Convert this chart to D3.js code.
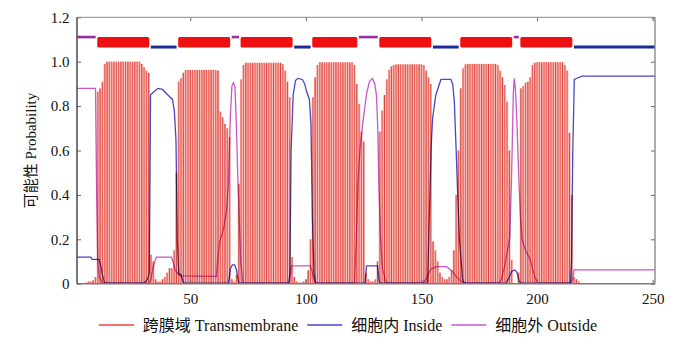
<!DOCTYPE html>
<html><head><meta charset="utf-8">
<script src="https://cdn.jsdelivr.net/npm/d3@7"></script>
<style>
body{margin:0;background:#fff;}
svg{display:block;}
text{font-family:"Liberation Serif","Times New Roman","Noto Sans CJK SC",serif;fill:#111;}
</style></head><body>
<svg id="chart" width="696" height="348"></svg>
<script>
// Per-residue transmembrane probability, residues 1..251
const tmProb = [
  0,0,0,0,0.005,0.01,0.01,0.015,0.03,0.865,
  0.88,0.91,0.99,1,1,1,1,1,1,1,
  1,1,1,1,1,1,1,1,0.99,0.975,
  0.96,0.95,0.13,0.10,0.02,0.01,0.01,0.02,0.03,0.05,
  0.07,0.07,0.15,0.5,0.91,0.925,0.95,0.963,0.963,0.963,
  0.963,0.963,0.963,0.963,0.963,0.963,0.963,0.963,0.963,0.963,
  0.963,0.96,0.775,0.75,0.72,0.70,0.66,0.02,0.01,0.04,
  0.45,0.92,0.985,0.995,0.995,0.995,0.995,0.995,0.995,0.995,
  0.995,0.995,0.995,0.995,0.995,0.995,0.995,0.995,0.995,0.99,
  0.96,0.91,0.84,0.12,0.03,0.01,0.005,0.005,0.01,0.02,
  0.06,0.2,0.84,0.93,0.985,0.997,0.997,0.997,0.997,0.997,
  0.997,0.997,0.997,0.997,0.997,0.997,0.997,0.997,0.997,0.997,
  0.985,0.9,0.81,0.685,0.64,0.05,0.02,0.01,0.01,0.02,
  0.1,0.685,0.78,0.85,0.92,0.963,0.978,0.985,0.988,0.988,
  0.988,0.988,0.988,0.988,0.988,0.988,0.988,0.988,0.988,0.988,
  0.985,0.96,0.93,0.90,0.19,0.15,0.1,0.05,0.03,0.02,
  0.02,0.03,0.06,0.15,0.4,0.6,0.88,0.97,0.988,0.99,
  0.99,0.99,0.99,0.99,0.99,0.99,0.99,0.99,0.99,0.99,
  0.99,0.99,0.985,0.96,0.93,0.895,0.82,0.6,0.107,0,
  0,0.05,0.88,0.89,0.905,0.91,0.93,0.985,0.995,0.998,
  0.998,0.998,0.998,0.998,0.998,0.998,0.998,0.998,0.998,0.998,
  0.998,0.985,0.96,0.68,0.4,0.03,0.02,0.01,0,0,
  0,0,0,0,0,0,0,0,0,0,
  0,0,0,0,0,0,0,0,0,0,
  0,0,0,0,0,0,0,0,0,0,
  0
];

// Inside / outside probability curves: [residue, probability]
const insidePts = [
  [1,0.12],[7,0.12],[7.5,0.11],[10.5,0.11],[11.3,0.08],[12,0.04],[12.9,0.004],
  [30,0.002],[31.5,0.02],[32.3,0.05],[32.8,0.85],[33.8,0.86],[36,0.88],[38,0.875],
  [40.3,0.85],[42.3,0.83],[43.1,0.78],[43.8,0.65],[44.4,0.2],[45,0.045],[46,0.04],
  [46.8,0.01],[47.5,0.002],[66.5,0.002],[67.4,0.07],[68.2,0.085],[69.2,0.085],
  [70,0.06],[70.8,0.008],[71.5,0.002],[92.6,0.002],[93.1,0.05],[93.6,0.6],
  [94.5,0.85],[95.5,0.915],[96.5,0.925],[98.5,0.92],[99.5,0.9],[100.2,0.87],
  [101.5,0.83],[102.2,0.72],[102.8,0.3],[103.5,0.05],[104.2,0.002],[125.6,0.002],
  [126.2,0.08],[131,0.08],[131.7,0.01],[132.3,0.002],[152.6,0.002],[153.4,0.3],
  [154.2,0.62],[154.8,0.745],[156.2,0.85],[158.4,0.92],[162.7,0.92],[163.5,0.9],
  [164.2,0.82],[165,0.6],[165.6,0.42],[166.4,0.2],[167.8,0.02],[168.5,0.002],
  [186.5,0.002],[188,0.03],[189,0.055],[190.3,0.062],[191.3,0.05],[192.3,0.01],
  [193,0.002],[214.4,0.002],[214.9,0.1],[215.4,0.58],[216.1,0.92],[218.2,0.93],
  [219.5,0.935],[251,0.935]
];
const outsidePts = [
  [1,0.88],[9,0.88],[9.5,0.4],[10,0.1],[10.6,0.03],[12,0.005],[13,0.002],
  [32,0.002],[33,0.02],[34,0.08],[35.3,0.12],[41.8,0.12],[42.5,0.1],[43.5,0.06],
  [44.6,0.045],[45.5,0.035],[61.3,0.033],[62,0.12],[62.7,0.19],[64.1,0.235],
  [65.6,0.32],[66.5,0.45],[67.3,0.75],[68,0.89],[68.6,0.905],[69.3,0.89],
  [69.9,0.73],[70.5,0.5],[71,0.355],[71.8,0.1],[72.8,0.002],[92.8,0.002],
  [93.8,0.08],[102,0.08],[102.8,0.05],[103.8,0.01],[104.5,0.002],[121,0.002],
  [121.8,0.2],[122.5,0.45],[123.5,0.62],[124.8,0.74],[126.3,0.86],[127.5,0.91],
  [128.8,0.925],[129.8,0.9],[130.5,0.85],[131.1,0.7],[131.6,0.43],[132.3,0.2],
  [133.1,0.07],[134.5,0.01],[135.5,0.002],[150.5,0.002],[152,0.02],[154,0.065],
  [156.5,0.077],[160.8,0.077],[163,0.06],[165.2,0.03],[167,0.012],[169,0.002],
  [183.5,0.002],[184.5,0.02],[186,0.08],[188.2,0.21],[189,0.5],[189.7,0.85],
  [190.1,0.925],[190.6,0.88],[191.2,0.75],[192,0.5],[192.8,0.3],[193.5,0.2],
  [195,0.15],[197,0.11],[199,0.03],[200.5,0.002],[214.5,0.002],[215.4,0.02],
  [216,0.062],[251,0.062]
];

// Predicted topology segments
const topoStart = [1,10,33,45,68,72,95,103,123,132,155,167,190,193,216];
const topoEnd   = [9,32,44,67,71,94,102,122,131,154,166,189,192,215,251];
const topoType  = ["outside","TM","inside","TM","outside","TM","inside","TM",
                   "outside","TM","inside","TM","outside","TM","inside"];

const xTicks = [50,100,150,200,250];
const yTicks = [0,0.2,0.4,0.6,0.8,1.0,1.2];
const yTickLabels = ["0","0.2","0.4","0.6","0.8","1.0","1.2"];
const legendLabels = ["跨膜域 Transmembrane","细胞内 Inside","细胞外 Outside"];
const yTitle = "可能性 Probability";

const colTM = "#e8473f", colIn = "#4747c8", colOut = "#c958c9";

const svg = d3.select("#chart");
const L = 77, R = 655, T = 17.3, B = 283.7;
const x = d3.scaleLinear().domain([1, 251]).range([L, R]);
const y = d3.scaleLinear().domain([0, 1.2]).range([B, T]);

svg.append("defs").append("clipPath").attr("id","plotclip")
  .append("rect").attr("x",L).attr("y",T).attr("width",R-L).attr("height",B-T);

const plot = svg.append("g").attr("clip-path","url(#plotclip)");

// transmembrane impulses
const bars = tmProb.map((v,i)=>({r:i+1,v})).filter(d=>d.v>0);
plot.append("g").selectAll("rect").data(bars).join("rect")
  .attr("x", d=>x(d.r-0.5)).attr("width", d=>x(d.r+0.5)-x(d.r-0.5))
  .attr("y", d=>y(d.v)).attr("height", d=>y(0)-y(d.v))
  .attr("fill","#f8aaa3");
plot.append("g").selectAll("line").data(bars).join("line")
  .attr("x1", d=>x(d.r)).attr("x2", d=>x(d.r))
  .attr("y1", y(0)).attr("y2", d=>y(d.v))
  .attr("stroke", (d,i)=> i%3===0 ? "#cc3b35" : "#e8534c").attr("stroke-width",0.9);

// inside / outside curves
const line = d3.line().x(d=>x(d[0])).y(d=>y(d[1]));
plot.append("path").datum(outsidePts).attr("d",line)
  .attr("fill","none").attr("stroke",colOut).attr("stroke-width",1.3)
  .style("mix-blend-mode","multiply");
plot.append("path").datum(insidePts).attr("d",line)
  .attr("fill","none").attr("stroke",colIn).attr("stroke-width",1.3)
  .style("mix-blend-mode","multiply");

// topology strip
const topo = topoStart.map((s,i)=>({s, e:topoEnd[i], t:topoType[i]}));
const strip = plot.append("g");
topo.forEach(d=>{
  const x0 = Math.max(x(d.s-0.5), L), x1 = Math.min(x(d.e+0.5), R);
  if (d.t === "TM") {
    strip.append("rect").attr("x", x0+0.6).attr("width", x1-x0-1.2)
      .attr("y", y(1.111)).attr("height", y(1.064)-y(1.111))
      .attr("rx",1.5).attr("fill","#ee1010");
  } else if (d.t === "inside") {
    strip.append("line").attr("x1", x0+1).attr("x2", x1-(x1>=R?0:1))
      .attr("y1", y(1.066)).attr("y2", y(1.066))
      .attr("stroke","#1b2b9a").attr("stroke-width",3);
  } else {
    strip.append("line").attr("x1", x0+(x0<=L?0:1)).attr("x2", x1-1)
      .attr("y1", y(1.111)).attr("y2", y(1.111))
      .attr("stroke","#9a2f9a").attr("stroke-width",2.6);
  }
});

// axes with inward ticks
const tickCol = "#666";
const gL = svg.append("g").attr("transform",`translate(${L},0)`)
  .call(d3.axisLeft(y).tickValues(yTicks).tickFormat((d,i)=>yTickLabels[i])
        .tickSizeInner(-4).tickSizeOuter(0).tickPadding(7.5));
const gB = svg.append("g").attr("transform",`translate(0,${B})`)
  .call(d3.axisBottom(x).tickValues(xTicks).tickSizeInner(-4).tickSizeOuter(0).tickPadding(9.6));
const gR = svg.append("g").attr("transform",`translate(${R},0)`)
  .call(d3.axisRight(y).tickValues(yTicks).tickFormat("").tickSizeInner(-4).tickSizeOuter(0));
const gT = svg.append("g").attr("transform",`translate(0,${T})`)
  .call(d3.axisTop(x).tickValues(xTicks).tickFormat("").tickSizeInner(-4).tickSizeOuter(0));
[gL,gB,gR,gT].forEach(g=>{
  g.select(".domain").remove();
  g.selectAll(".tick line").attr("stroke",tickCol);
  g.selectAll(".tick text").attr("font-size",15).attr("fill","#111")
    .attr("font-family",'"Liberation Serif","Times New Roman",serif');
});

// frame
svg.append("line").attr("x1",L).attr("x2",R).attr("y1",T).attr("y2",T).attr("stroke","#8a8a8a").attr("stroke-width",1);
svg.append("line").attr("x1",R).attr("x2",R).attr("y1",T).attr("y2",B).attr("stroke","#8a8a8a").attr("stroke-width",1.4);
svg.append("line").attr("x1",L).attr("x2",R).attr("y1",B).attr("y2",B).attr("stroke","#7a7a7a").attr("stroke-width",1.4);
svg.append("line").attr("x1",L).attr("x2",L).attr("y1",T).attr("y2",B).attr("stroke","#4a4a4a").attr("stroke-width",1.5);

// y title
svg.append("text").attr("transform",`translate(36,${(T+B)/2}) rotate(-90)`)
  .attr("text-anchor","middle").attr("font-size",15).text(yTitle);

// legend, centred on the page
const legCols = [colTM, colIn, colOut];
const legY = 325;
const leg = svg.append("g");
const items = legendLabels.map((lab,i)=>{
  const g = leg.append("g");
  g.append("line").attr("x1",0).attr("x2",35).attr("y1",legY).attr("y2",legY)
    .attr("stroke",legCols[i]).attr("stroke-width",1.5);
  const t = g.append("text").attr("x",44).attr("y",legY).attr("dy","0.35em")
    .attr("font-size",16).text(lab);
  return {g, w: 44 + t.node().getComputedTextLength()};
});
const gap = 9;
const total = d3.sum(items, d=>d.w) + gap*(items.length-1);
let cx = 348 - total/2;
items.forEach(it=>{ it.g.attr("transform",`translate(${cx},0)`); cx += it.w + gap; });
</script>
</body></html>
